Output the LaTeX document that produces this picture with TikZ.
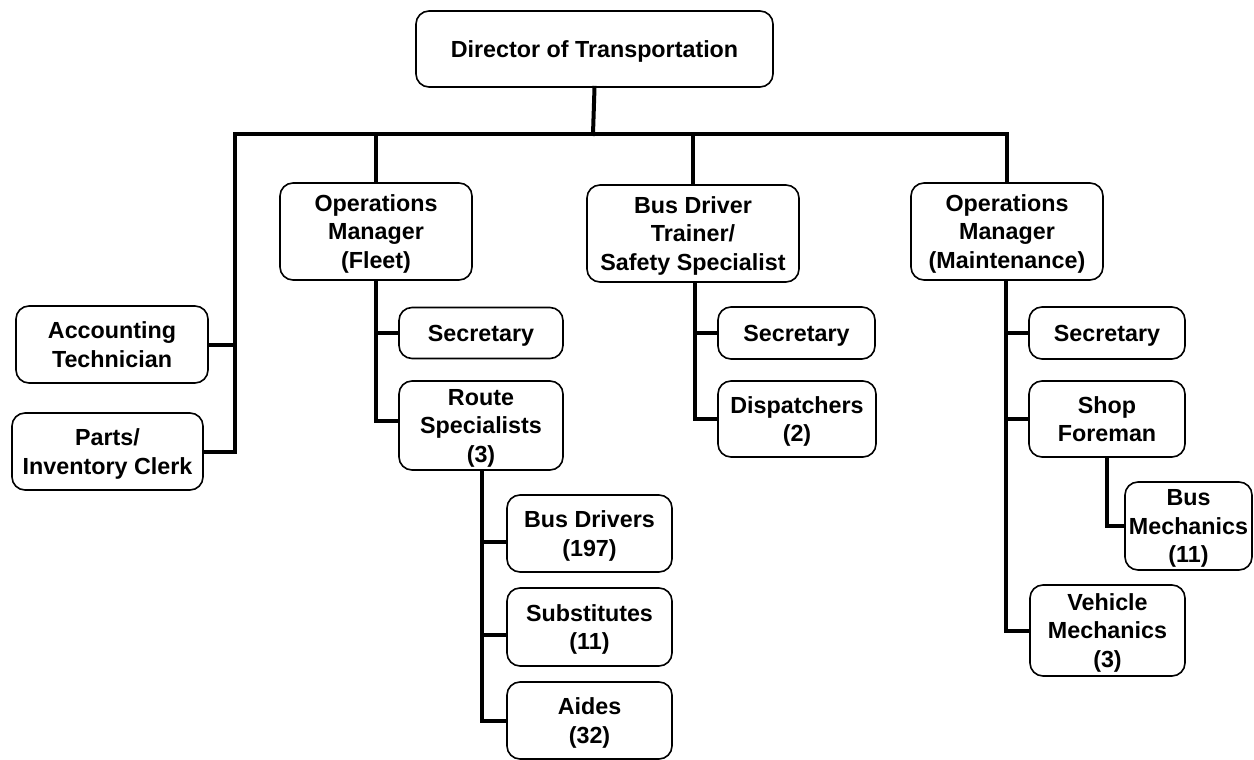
\documentclass[tikz,border=0pt]{standalone}
\usepackage{fontspec}
\setmainfont{Liberation Sans}
\begin{document}
\begin{tikzpicture}[x=1pt,y=-1pt,
  box/.style={draw, line width=1.6pt, rounded corners=13pt, fill=white,
    align=center, inner sep=0pt, text depth=-1.5pt,
    font=\bfseries\fontsize{23.3}{28.5}\selectfont},
  conn/.style={line width=4pt, line cap=rect}]
\useasboundingbox (0,0) rectangle (1254,760);

% top level
\node[box, minimum width=357pt, minimum height=76pt] (dir) at (594.5,49) {Director of Transportation};

% staff reporting directly to the director
\node[box, minimum width=192pt, minimum height=77pt] (acct) at (112,344.5) {Accounting\\Technician};
\node[box, minimum width=191pt, minimum height=77pt] (parts) at (107.5,451.5) {Parts/\\Inventory Clerk};

% second level
\node[box, minimum width=192pt, minimum height=97pt] (fleet) at (376,231.5) {Operations\\Manager\\(Fleet)};
\node[box, minimum width=212pt, minimum height=97pt] (trainer) at (693,233.5) {Bus Driver\\Trainer/\\Safety Specialist};
\node[box, minimum width=192pt, minimum height=97pt] (maint) at (1007,231.5) {Operations\\Manager\\(Maintenance)};

% fleet branch
\node[box, minimum width=164pt, minimum height=51pt] (sec1) at (481,333) {Secretary};
\node[box, minimum width=164pt, minimum height=89pt] (route) at (481,425.5) {Route\\Specialists\\(3)};
\node[box, minimum width=165pt, minimum height=77pt] (bdrv) at (589.5,533.5) {Bus Drivers\\(197)};
\node[box, minimum width=165pt, minimum height=78pt] (subs) at (589.5,627) {Substitutes\\(11)};
\node[box, minimum width=165pt, minimum height=77pt] (aides) at (589.5,720.5) {Aides\\(32)};

% trainer branch
\node[box, minimum width=157pt, minimum height=52pt] (sec2) at (796.5,333) {Secretary};
\node[box, minimum width=158pt, minimum height=76pt] (disp) at (797,419) {Dispatchers\\(2)};

% maintenance branch
\node[box, minimum width=156pt, minimum height=52pt] (sec3) at (1107,333) {Secretary};
\node[box, minimum width=156pt, minimum height=76pt] (shop) at (1107,419) {Shop\\Foreman};
\node[box, minimum width=127pt, minimum height=88pt] (bmech) at (1188.5,526) {Bus\\Mechanics\\(11)};
\node[box, minimum width=155pt, minimum height=91pt] (vmech) at (1107.5,630.5) {Vehicle\\Mechanics\\(3)};

% main bus
\coordinate (staff) at (235,134);
\coordinate (hub) at (593,134);
\draw[conn] (dir.south) -- (hub);
\draw[conn] (parts.east) -| (staff) -- (maint.north |- staff) -- (maint.north);
\draw[conn] (acct.east) -- (acct.east -| staff);
\draw[conn] (fleet.north) -- (fleet.north |- staff);
\draw[conn] (trainer.north) -- (trainer.north |- staff);

% fleet connectors
\draw[conn] (fleet.south) |- ([yshift=5pt]route.west);
\draw[conn] (fleet.south |- sec1.west) -- (sec1.west);
\draw[conn] ([xshift=1pt]route.south) |- (aides.west);
\draw[conn] ([xshift=1pt]route.south |- bdrv.west) ++(0,8.5) -- ([yshift=-8.5pt]bdrv.west);
\draw[conn] ([xshift=1pt]route.south |- subs.west) ++(0,8) -- ([yshift=-8pt]subs.west);

% trainer connectors
\draw[conn] ([xshift=2pt]trainer.south) |- (disp.west);
\draw[conn] ([xshift=2pt]trainer.south |- sec2.west) -- (sec2.west);

% maintenance connectors
\draw[conn] ([xshift=-1pt]maint.south) |- (vmech.west);
\draw[conn] ([xshift=-1pt]maint.south |- sec3.west) -- (sec3.west);
\draw[conn] ([xshift=-1pt]maint.south |- shop.west) -- (shop.west);
\draw[conn] (shop.south) |- (bmech.west);
\end{tikzpicture}
\end{document}
